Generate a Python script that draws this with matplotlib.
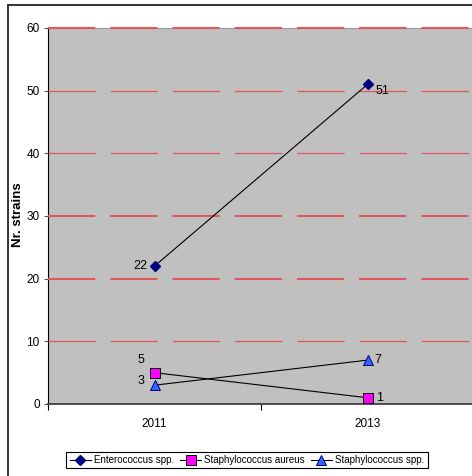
import matplotlib.pyplot as plt
from matplotlib.patches import Rectangle

plt.rcParams["font.family"] = ["Liberation Sans", "DejaVu Sans"]
plt.rcParams["lines.scale_dashes"] = False

years = ["2011", "2013"]
enterococcus = [22, 51]
staph_aureus = [5, 1]
staph_spp = [3, 7]
y_ticks = [0, 10, 20, 30, 40, 50, 60]

fig = plt.figure(figsize=(4.72, 4.76), dpi=100)
ax = fig.add_axes([48 / 472, 1 - 404 / 476, 426 / 472, 376 / 476])
ax.set_facecolor("#c0c0c0")

# outer chart border
fig.patches.append(Rectangle((8 / 472, -0.1), 1.2, 1 - 5 / 476 + 0.1, transform=fig.transFigure,
                             fill=False, edgecolor="#222222", linewidth=1.3, zorder=0))

x = [0.5, 1.5]

# plot area top edge, then dashed red gridlines over it
ax.axhline(60, color="#999999", linewidth=0.8, zorder=2.5, clip_on=False)
for yv in y_ticks[1:]:
    lw = 1.5 if yv in (20, 30, 60) else 0.9
    ax.axhline(yv, color="#e05858", linewidth=lw, dashes=(34, 10.8), zorder=2.6, clip_on=False)

ax.plot(x, enterococcus, color="black", linewidth=0.8, marker="D", markersize=5.5,
        markerfacecolor="#000080", markeredgecolor="#000080", label="Enterococcus spp.", zorder=3)
ax.plot(x, staph_aureus, color="black", linewidth=0.8, marker="s", markersize=6.5,
        markerfacecolor="#ff00ff", markeredgecolor="black", markeredgewidth=0.7,
        label="Staphylococcus aureus", zorder=3)
ax.plot(x, staph_spp, color="black", linewidth=0.8, marker="^", markersize=7,
        markerfacecolor="#3366ff", markeredgecolor="#000080", markeredgewidth=0.7,
        label="Staphylococcus spp.", zorder=3)

lab = dict(fontsize=9, color="black")
ax.annotate(str(enterococcus[0]), (x[0], enterococcus[0]), xytext=(-5, 0), textcoords="offset points", ha="right", va="center", **lab)
ax.annotate(str(enterococcus[1]), (x[1], enterococcus[1]), xytext=(6, -5), textcoords="offset points", ha="left", va="center", **lab)
ax.annotate(str(staph_aureus[0]), (x[0], staph_aureus[0]), xytext=(-7, 9), textcoords="offset points", ha="right", va="center", **lab)
ax.annotate(str(staph_aureus[1]), (x[1], staph_aureus[1]), xytext=(6, 0), textcoords="offset points", ha="left", va="center", **lab)
ax.annotate(str(staph_spp[0]), (x[0], staph_spp[0]), xytext=(-7, 3), textcoords="offset points", ha="right", va="center", **lab)
ax.annotate(str(staph_spp[1]), (x[1], staph_spp[1]), xytext=(5, 0), textcoords="offset points", ha="left", va="center", **lab)

ax.set_xlim(0, 2)
ax.set_ylim(0, 60)
ax.set_yticks(y_ticks)
ax.tick_params(axis="y", labelsize=8.5, length=3, width=0.8, color="#555555", pad=3)
ax.set_xticks([0, 1, 2])
ax.set_xticklabels([])
ax.set_xticks(x, minor=True)
ax.set_xticklabels(years, minor=True)
ax.tick_params(axis="x", which="major", length=4, width=0.8, color="black")
ax.tick_params(axis="x", which="minor", length=0, labelsize=8.5, pad=10)

ax.spines["right"].set_visible(False)
ax.spines["top"].set_visible(False)
ax.spines["left"].set_color("black")
ax.spines["left"].set_linewidth(0.8)
ax.spines["bottom"].set_color("#404040")
ax.spines["bottom"].set_linewidth(1.3)

ax.set_ylabel("Nr. strains", fontsize=9.5, fontweight="bold")
ax.yaxis.set_label_coords(-24 / 426, 0.503)

leg = fig.legend(loc="center", bbox_to_anchor=(247 / 472, 1 - 460 / 476), ncol=3, fontsize=7,
                 frameon=True, fancybox=False, edgecolor="black", handlelength=2.2,
                 handletextpad=0.3, columnspacing=0.6, borderpad=0.35, framealpha=1)
leg.get_frame().set_linewidth(0.8)

fig.savefig("out.png", dpi=100)
